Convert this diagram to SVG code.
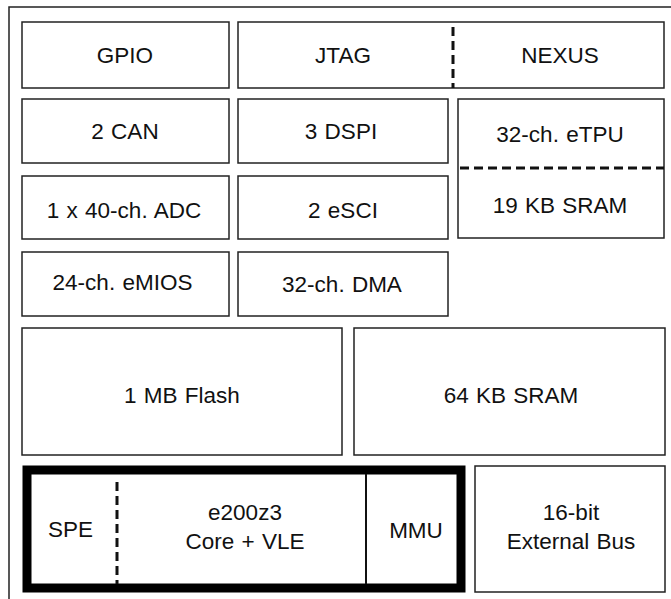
<svg xmlns="http://www.w3.org/2000/svg" width="671" height="599" viewBox="0 0 671 599">
<style>
.box{fill:#fff;stroke:#222;stroke-width:1.5}
.dash{fill:none;stroke:#111;stroke-width:3;stroke-dasharray:9 5}
.core{fill:#fff;stroke:#000;stroke-width:9}
.div{fill:none;stroke:#111;stroke-width:2}
text{font-family:"Liberation Sans",Arial,Helvetica,sans-serif;font-size:22.5px;fill:#111;text-anchor:middle;word-spacing:1px}
</style>
<rect width="671" height="599" fill="#fff"/>
<path d="M9,599 V7 H671" fill="none" stroke="#222" stroke-width="1.5"/>
<g id="gpio"><rect class="box" x="22" y="22" width="207" height="66"/><text x="125" y="63">GPIO</text></g>
<g id="jtag-nexus"><rect class="box" x="238" y="22" width="426" height="66"/><text x="343" y="63">JTAG</text><text x="560" y="63">NEXUS</text></g>
<g id="can"><rect class="box" x="22" y="99" width="207" height="64"/><text x="125" y="138.5">2 CAN</text></g>
<g id="dspi"><rect class="box" x="238" y="99" width="210" height="64"/><text x="341" y="138.5">3 DSPI</text></g>
<g id="etpu"><rect class="box" x="458" y="99" width="206" height="139"/><text x="560" y="142">32-ch. eTPU</text><text x="560" y="213">19 KB SRAM</text></g>
<g id="adc"><rect class="box" x="22" y="176" width="207" height="63"/><text x="124" y="218">1 x 40-ch. ADC</text></g>
<g id="esci"><rect class="box" x="238" y="176" width="210" height="63"/><text x="343" y="218">2 eSCI</text></g>
<g id="emios"><rect class="box" x="22" y="252" width="207" height="64"/><text x="122.5" y="289.5">24-ch. eMIOS</text></g>
<g id="dma"><rect class="box" x="238" y="252" width="210" height="64"/><text x="342" y="292">32-ch. DMA</text></g>
<g id="flash"><rect class="box" x="22" y="328" width="320" height="127"/><text x="182" y="403">1 MB Flash</text></g>
<g id="sram"><rect class="box" x="354" y="328" width="311" height="127"/><text x="511" y="403">64 KB SRAM</text></g>
<g id="core"><rect class="core" x="27" y="470" width="434" height="118"/><text x="70.5" y="537">SPE</text><text x="245" y="520">e200z3</text><text x="245" y="549">Core + VLE</text><text x="416" y="538">MMU</text></g>
<g id="extbus"><rect class="box" x="475" y="466" width="190" height="126"/><text x="571" y="520">16-bit</text><text x="571" y="549">External Bus</text></g>
<g id="connectors">
<line class="dash" x1="453" y1="27" x2="453" y2="88"/>
<line class="dash" x1="460" y1="168" x2="664" y2="168"/>
<line class="dash" x1="117" y1="482" x2="117" y2="584"/>
<line class="div" x1="366" y1="474" x2="366" y2="584"/>
</g>
</svg>
